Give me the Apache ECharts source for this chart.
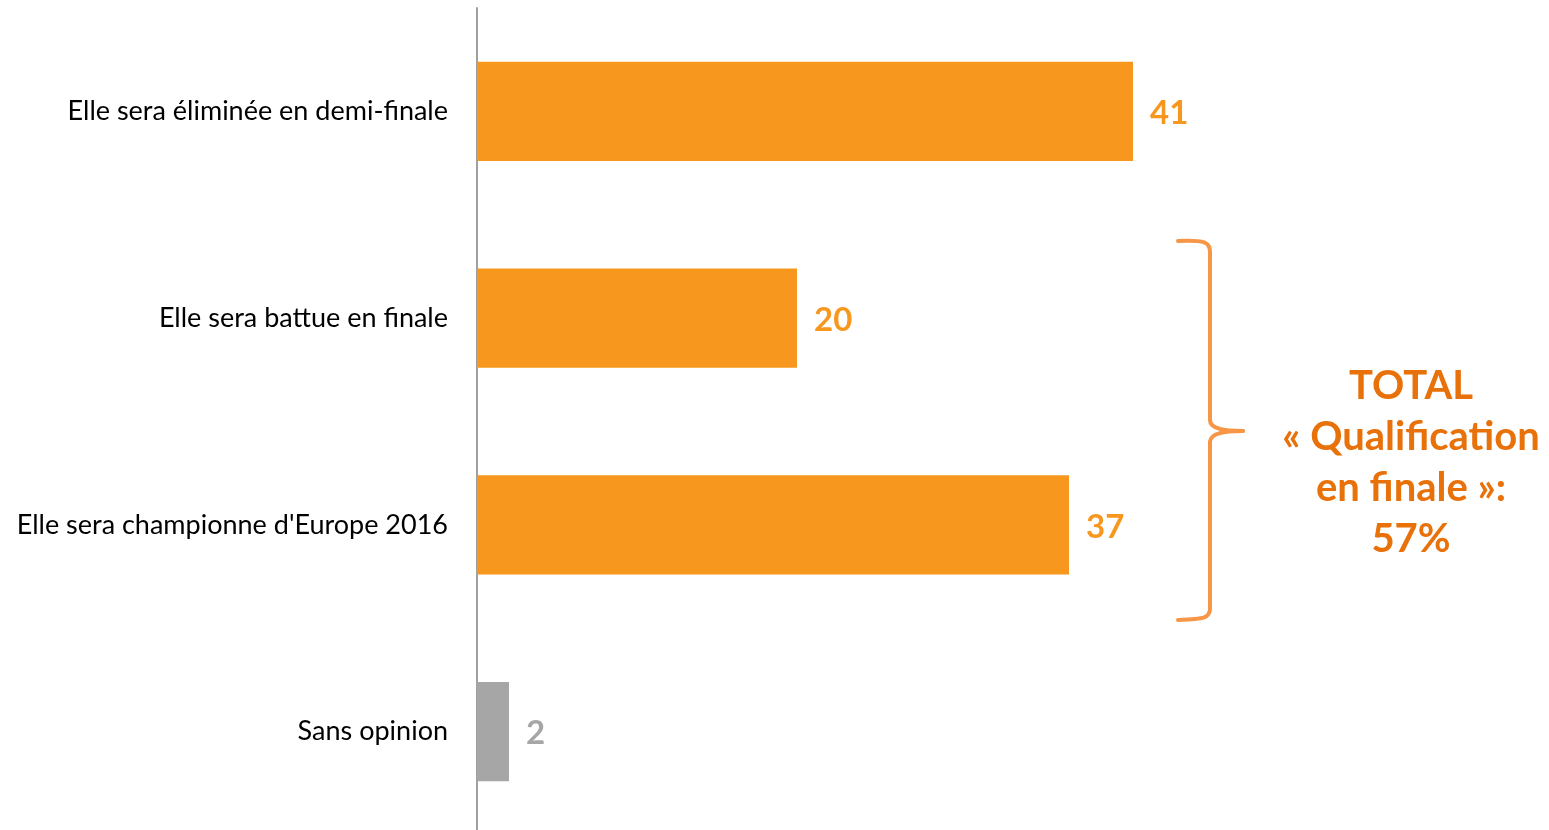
<!DOCTYPE html>
<html>
<head>
<meta charset="utf-8">
<script src="https://cdn.jsdelivr.net/npm/echarts@6/dist/echarts.min.js"></script>
<style>
html, body { margin: 0; padding: 0; background: #fff; }
#chart { width: 1549px; height: 830px; }
</style>
</head>
<body>
<div id="chart"></div>
<script>
var categories = ['Elle sera éliminée en demi-finale', 'Elle sera battue en finale', "Elle sera championne d'Europe 2016", 'Sans opinion'];
var values = [41, 20, 37, 2];
var barColors = ['#F7971E', '#F7971E', '#F7971E', '#A6A6A6'];
var totalText = ['TOTAL', '« Qualification', 'en finale »:', '57%'];

var dom = document.getElementById('chart');
var myChart = echarts.init(dom);

// accolade a droite des barres 2 et 3
var braceStyle = { fill: null, stroke: '#F79646', lineWidth: 4, lineCap: 'round' };
function curve(x1, y1, cx1, cy1, cx2, cy2, x2, y2) {
    return {
        type: 'bezierCurve',
        shape: { x1: x1, y1: y1, cpx1: cx1, cpy1: cy1, cpx2: cx2, cpy2: cy2, x2: x2, y2: y2 },
        style: braceStyle
    };
}
function seg(x1, y1, x2, y2) {
    return { type: 'line', shape: { x1: x1, y1: y1, x2: x2, y2: y2 }, style: braceStyle };
}

var option = {
    animation: false,
    grid: {
        left: 477,
        top: 8,
        width: 960,
        height: 827,
        outerBoundsMode: 'none'
    },
    xAxis: {
        type: 'value',
        min: 0,
        max: 60,
        show: false
    },
    yAxis: {
        type: 'category',
        inverse: true,
        data: categories,
        axisLine: { show: true, lineStyle: { color: '#A0A0A0', width: 2 } },
        axisTick: { show: false },
        axisLabel: {
            margin: 29,
            fontFamily: 'Lato',
            fontSize: 27,
            color: '#000'
        }
    },
    series: [{
        type: 'bar',
        barCategoryGap: '52%',
        data: values.map(function (v, i) {
            return {
                value: v,
                itemStyle: { color: barColors[i] },
                label: { color: barColors[i] }
            };
        }),
        label: {
            show: true,
            position: 'right',
            distance: 17,
            offset: [0, 2],
            fontFamily: 'Lato',
            fontWeight: 'bold',
            fontSize: 33
        }
    }],
    graphic: [
        curve(1178, 241, 1205, 240, 1210, 242, 1210, 252),
        seg(1210, 252, 1210, 420),
        curve(1210, 420, 1210, 429, 1225, 431, 1243, 431),
        curve(1243, 431, 1225, 431, 1210, 433, 1210, 442),
        seg(1210, 442, 1210, 608),
        curve(1210, 608, 1210, 618, 1205, 619, 1178, 620),
        {
            type: 'text',
            x: 1411,
            y: 463,
            style: {
                text: totalText.join('\n'),
                align: 'center',
                verticalAlign: 'middle',
                fontFamily: 'Lato',
                fontWeight: 'bold',
                fontSize: 40,
                lineHeight: 51,
                fill: '#E8710A'
            }
        }
    ]
};
myChart.setOption(option, true);
</script>
</body>
</html>
